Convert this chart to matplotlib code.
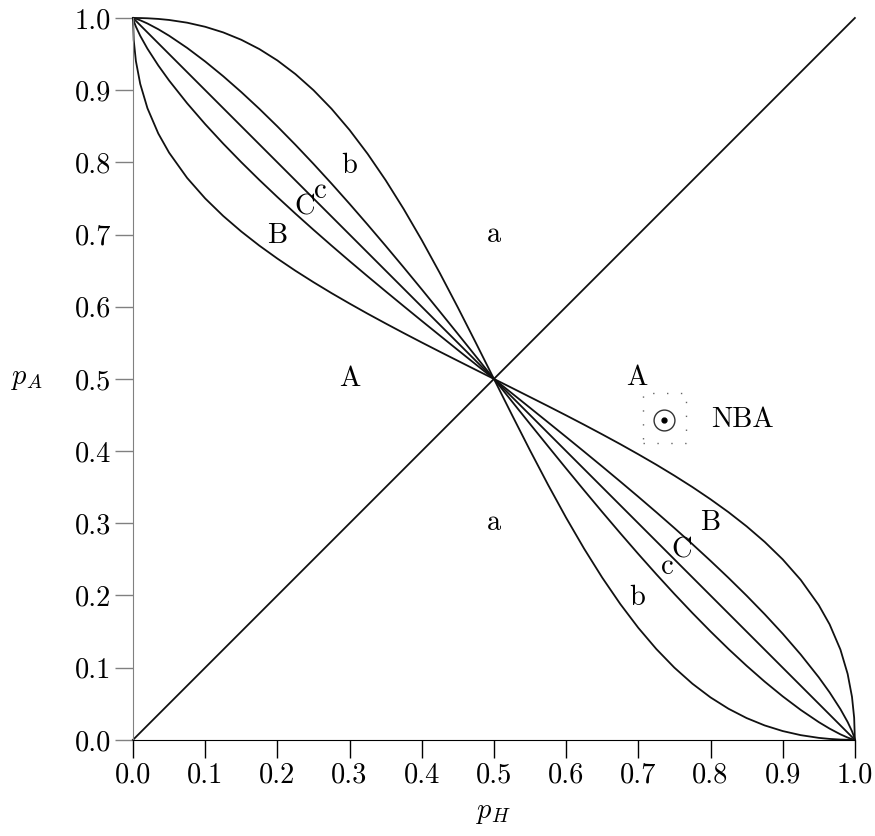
import matplotlib
matplotlib.use("Agg")
import matplotlib.pyplot as plt
from matplotlib.patches import Rectangle

plt.rcParams['font.family'] = 'serif'
plt.rcParams['font.serif'] = ['cmr10']
plt.rcParams['mathtext.fontset'] = 'cm'
plt.rcParams['axes.formatter.use_mathtext'] = True

# p_H grid shared by all curves
p_h = [0, 0.001, 0.004, 0.01, 0.02, 0.035, 0.05, 0.075, 0.1, 0.125, 0.15, 0.175,
       0.2, 0.225, 0.25, 0.275, 0.3, 0.325, 0.35, 0.375, 0.4, 0.425, 0.45, 0.475,
       0.5, 0.525, 0.55, 0.575, 0.6, 0.625, 0.65, 0.675, 0.7, 0.725, 0.75, 0.775,
       0.8, 0.825, 0.85, 0.875, 0.9, 0.925, 0.95, 0.965, 0.98, 0.99, 0.996, 0.999, 1.0]

# boundary curves
curve_B = [1.0, 0.9693, 0.9404, 0.9087, 0.8750, 0.8400, 0.8134, 0.7784, 0.7500,
           0.7257, 0.7042, 0.68466, 0.6667, 0.64985, 0.6340, 0.61886, 0.6044,
           0.59036, 0.5768, 0.56351, 0.5505, 0.53771, 0.5251, 0.51251, 0.5,
           0.48749, 0.4749, 0.46229, 0.4495, 0.43649, 0.4232, 0.40964, 0.3956,
           0.38114, 0.3660, 0.35015, 0.3333, 0.31534, 0.2958, 0.2743, 0.2500,
           0.2216, 0.1866, 0.1600, 0.1250, 0.0913, 0.0596, 0.0307, 0.0]
curve_C = [1.0, 0.99603, 0.98803, 0.97531, 0.95746, 0.93424, 0.91337, 0.88182,
           0.85292, 0.82588, 0.80022, 0.77564, 0.75196, 0.72897, 0.70660, 0.68471,
           0.66324, 0.64214, 0.62133, 0.60077, 0.58038, 0.56017, 0.54003, 0.52000,
           0.5, 0.48000, 0.45997, 0.43983, 0.41962, 0.39923, 0.37867, 0.35786,
           0.33676, 0.31529, 0.29340, 0.27103, 0.24804, 0.22436, 0.19978, 0.17412,
           0.14708, 0.11818, 0.08663, 0.06576, 0.04254, 0.02469, 0.01197, 0.00397, 0.0]
curve_c = [1.0, 0.99982, 0.99899, 0.99681, 0.99235, 0.98442, 0.97542, 0.95853,
           0.93972, 0.91929, 0.89736, 0.87418, 0.84978, 0.82433, 0.79791, 0.77061,
           0.74252, 0.71372, 0.68434, 0.65443, 0.62408, 0.59334, 0.56239, 0.53123,
           0.5, 0.46877, 0.43761, 0.40666, 0.37592, 0.34557, 0.31566, 0.28628,
           0.25748, 0.22939, 0.20209, 0.17567, 0.15022, 0.12582, 0.10264, 0.08071,
           0.06028, 0.04147, 0.02458, 0.01558, 0.00765, 0.00319, 0.00101, 0.00018, 0.0]
curve_b = [1.0, 1.0, 0.99998, 0.99990, 0.99958, 0.99869, 0.99724, 0.99347, 0.98780,
           0.98000, 0.96980, 0.95694, 0.94118, 0.92226, 0.9, 0.87422, 0.84483,
           0.81180, 0.77523, 0.73529, 0.69231, 0.64670, 0.59901, 0.54988, 0.5,
           0.45012, 0.40099, 0.35330, 0.30769, 0.26471, 0.22477, 0.18820, 0.15517,
           0.12578, 0.1, 0.07774, 0.05882, 0.04306, 0.03020, 0.02, 0.01220,
           0.00653, 0.00276, 0.00131, 0.00042, 0.0001, 0.00002, 0.0, 0.0]

anti_x = [0, 1]
anti_y = [1, 0]
diag_x = [0, 1]
diag_y = [0, 1]

# region labels (text, p_H, p_A)
labels = [("b", 0.30, 0.795), ("C", 0.238, 0.738), ("c", 0.259, 0.760),
          ("B", 0.20, 0.698), ("a", 0.50, 0.70), ("A", 0.30, 0.50),
          ("A", 0.698, 0.502), ("a", 0.50, 0.30), ("B", 0.80, 0.30),
          ("C", 0.76, 0.262), ("c", 0.74, 0.240), ("b", 0.698, 0.197)]

ticks = [0.0, 0.1, 0.2, 0.3, 0.4, 0.5, 0.6, 0.7, 0.8, 0.9, 1.0]
tick_labels = ["0.0", "0.1", "0.2", "0.3", "0.4", "0.5", "0.6", "0.7", "0.8", "0.9", "1.0"]

fs = 20.5

fig = plt.figure(figsize=(8.75, 8.36), dpi=100)
ax = fig.add_axes([0.152, 0.115, 0.825, 0.8635])

lc = '#111111'
lw = 1.3
for ys in (curve_B, curve_C, curve_c, curve_b):
    ax.plot(p_h, ys, color=lc, lw=lw, clip_on=False)
ax.plot(anti_x, anti_y, color=lc, lw=lw, clip_on=False)
ax.plot(diag_x, diag_y, color=lc, lw=lw, clip_on=False)

for txt, x, y in labels:
    ax.text(x, y, txt, fontsize=fs, ha='center', va='center')

# legend-like key
ax.add_patch(Rectangle((0.706, 0.411), 0.060, 0.070, fill=False,
                       ls=(0, (1, 9)), lw=1.0, ec='#666666'))
ax.plot([0.735], [0.443], marker='o', ms=15, mfc='none', mec='#333333', mew=1.0)
ax.plot([0.735], [0.443], marker='o', ms=3.5, color='black')
ax.text(0.845, 0.443, "NBA", fontsize=fs, ha='center', va='center')

ax.set_xlim(0, 1)
ax.set_ylim(0, 1)
ax.set_xticks(ticks)
ax.set_xticklabels(tick_labels)
ax.set_yticks(ticks)
ax.set_yticklabels(tick_labels)
ax.tick_params(axis='both', direction='out', length=13, width=1.0, labelsize=fs, pad=3)
ax.tick_params(axis='y', colors='#808080', labelcolor='black')
ax.tick_params(axis='x', colors='black', labelcolor='black')

ax.spines['top'].set_visible(False)
ax.spines['right'].set_visible(False)
ax.spines['left'].set_color('#808080')
ax.spines['bottom'].set_color('black')

ax.set_xlabel(r"$p_H$", fontsize=fs, labelpad=8)
ax.set_ylabel(r"$p_A$", fontsize=fs, rotation=0, labelpad=34, va='center')

fig.savefig("out.png", dpi=100)
